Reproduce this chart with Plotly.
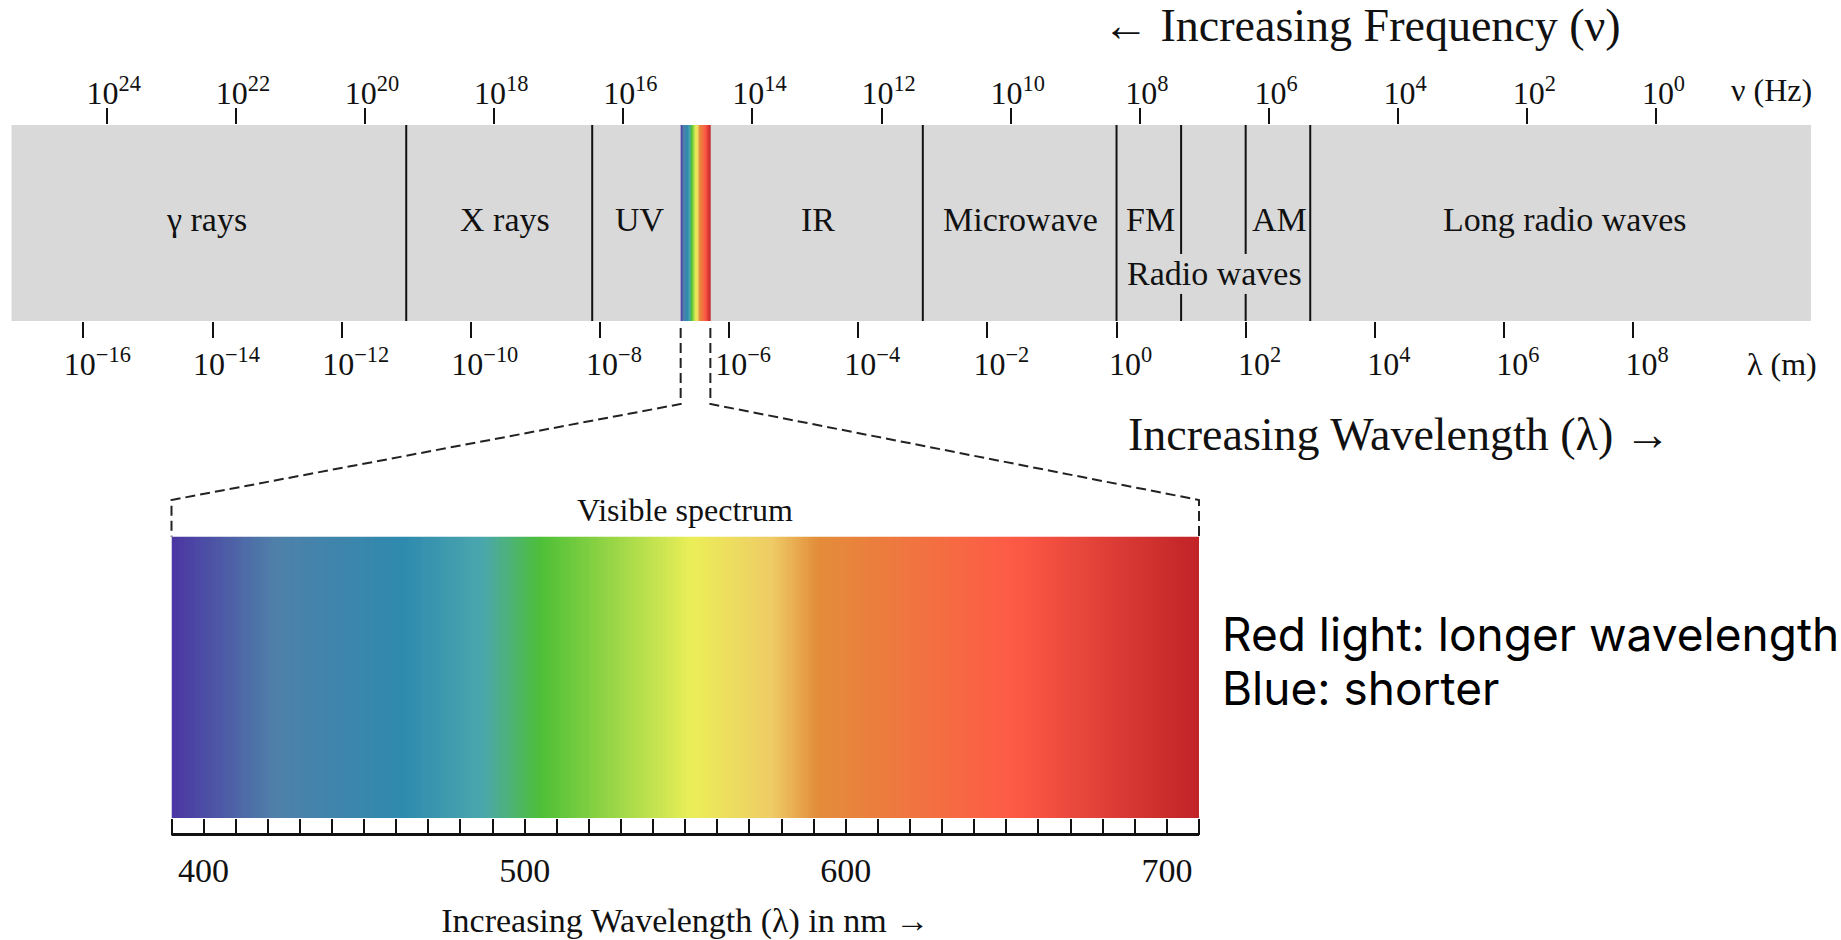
import numpy as np
import plotly.graph_objects as go

# ---------------- data ----------------
REGION_NAMES = ["γ rays", "X rays", "UV", "IR", "Microwave", "FM", "AM", "Long radio waves"]
REGION_LABEL_LOG_WL = [-14.09, -9.47, -7.38, -4.62, -1.49, 0.53, 2.53, 6.94]
FULL_DIVIDERS_LOG_WL = [-11.0, -8.12, -3.0, 0.0, 3.0]
RADIO_SPLIT_LOG_WL = [1.0, 2.0]
RADIO_LABEL = "Radio waves"
RADIO_LABEL_LOG_WL = 1.51
VISIBLE_LOG_WL = [-6.75, -6.29]
BAND_LOG_WL_RANGE = [-17.113, 10.755]
WL_EXPONENTS = [-16, -14, -12, -10, -8, -6, -4, -2, 0, 2, 4, 6, 8]
FREQ_EXPONENTS = [24, 22, 20, 18, 16, 14, 12, 10, 8, 6, 4, 2, 0]
FREQ_OFFSET = 8.362  # log10(nu) = FREQ_OFFSET - log10(lambda), as drawn

NM_RANGE = [390, 710]
NM_LABELS = [400, 500, 600, 700]
NM_MINOR_STEP = 10
SPECTRUM_STOPS_NM = [390, 422, 462, 487, 505, 552, 577, 591, 652, 710]
SPECTRUM_COLORS = ["#4B35A3", "#4F80A9", "#2E8AAE", "#4BA7AD", "#4DBF37",
                   "#EBEE57", "#EFCB66", "#E38D3A", "#FE5A46", "#C02327"]

NOTE_LINES = ["Red light: longer wavelength", "Blue: shorter"]

# ---------------- layout geometry (pixels) ----------------
W, H = 1841, 940
BAND_PX_X = (11.5, 1811.0)
BAND_PX_Y = (125.0, 321.0)
SPEC_PX_X = (171.5, 1199.0)
SPEC_PX_Y = (536.5, 818.0)


def px_x(p):
    return p / W


def px_y(p):
    return 1 - p / H


band_xdom = [px_x(BAND_PX_X[0]), px_x(BAND_PX_X[1])]
band_ydom = [px_y(BAND_PX_Y[1]), px_y(BAND_PX_Y[0])]
spec_xdom = [px_x(SPEC_PX_X[0]), px_x(SPEC_PX_X[1])]
spec_ydom = [px_y(SPEC_PX_Y[1]), px_y(SPEC_PX_Y[0])]


def band_to_paper(v):
    r0, r1 = BAND_LOG_WL_RANGE
    return band_xdom[0] + (v - r0) / (r1 - r0) * (band_xdom[1] - band_xdom[0])


serif = "Liberation Serif, Times New Roman, serif"
ink = "#111111"
colorscale = [[(s - NM_RANGE[0]) / (NM_RANGE[1] - NM_RANGE[0]), c]
              for s, c in zip(SPECTRUM_STOPS_NM, SPECTRUM_COLORS)]

fig = go.Figure()

# visible spectrum (bottom panel)
nm_edges = np.linspace(NM_RANGE[0], NM_RANGE[1], 321)
nm_centers = (nm_edges[:-1] + nm_edges[1:]) / 2
fig.add_trace(go.Heatmap(x=nm_edges, y=[0, 1], z=[nm_centers], colorscale=colorscale,
                         zmin=NM_RANGE[0], zmax=NM_RANGE[1], showscale=False,
                         hoverinfo="skip", xaxis="x3", yaxis="y3"))

# visible strip in the band
strip_edges = np.linspace(VISIBLE_LOG_WL[0], VISIBLE_LOG_WL[1], 321)
fig.add_trace(go.Heatmap(x=strip_edges, y=[0, 1], z=[nm_centers], colorscale=colorscale,
                         zmin=NM_RANGE[0], zmax=NM_RANGE[1], showscale=False,
                         hoverinfo="skip", xaxis="x", yaxis="y"))

# invisible trace to carry the frequency axis
fig.add_trace(go.Scatter(x=FREQ_EXPONENTS, y=[0.5] * len(FREQ_EXPONENTS), mode="markers",
                         marker=dict(opacity=0), hoverinfo="skip", showlegend=False,
                         xaxis="x2", yaxis="y"))

shapes = []
shapes.append(dict(type="rect", xref="x domain", yref="y domain", x0=0, x1=1, y0=0, y1=1,
                   fillcolor="#D9D9D9", line=dict(width=0), layer="below"))
for v in FULL_DIVIDERS_LOG_WL:
    shapes.append(dict(type="line", xref="x", yref="y domain", x0=v, x1=v, y0=0, y1=1,
                       line=dict(color=ink, width=2)))
for v in RADIO_SPLIT_LOG_WL:
    shapes.append(dict(type="line", xref="x", yref="y domain", x0=v, x1=v, y0=0.342, y1=1,
                       line=dict(color=ink, width=2)))
    shapes.append(dict(type="line", xref="x", yref="y domain", x0=v, x1=v, y0=0, y1=0.138,
                       line=dict(color=ink, width=2)))

# thick base line under the nm tick strip
base_y = -16.5 / (SPEC_PX_Y[1] - SPEC_PX_Y[0])
shapes.append(dict(type="line", xref="x3 domain", yref="y3 domain", x0=0, x1=1,
                   y0=base_y, y1=base_y, line=dict(color=ink, width=3)))

# dashed connectors
y_start = px_y(BAND_PX_Y[1] + 7)
y_kink = px_y(404)
y_corner = px_y(500)
for v, sx in zip(VISIBLE_LOG_WL, spec_xdom):
    xp = band_to_paper(v)
    path = f"M {xp},{y_start} L {xp},{y_kink} L {sx},{y_corner} L {sx},{spec_ydom[1]}"
    shapes.append(dict(type="path", xref="paper", yref="paper", path=path,
                       line=dict(color="#222222", width=2, dash="10px,5px")))

annotations = []
for name, v in zip(REGION_NAMES, REGION_LABEL_LOG_WL):
    annotations.append(dict(text=name, x=v, y=0.52, xref="x", yref="y", showarrow=False,
                            font=dict(family=serif, size=34, color=ink)))
annotations.append(dict(text=RADIO_LABEL, x=RADIO_LABEL_LOG_WL, y=0.24, xref="x", yref="y",
                        showarrow=False, font=dict(family=serif, size=34, color=ink)))

annotations.append(dict(text="← Increasing Frequency (ν)", x=px_x(1362), y=px_y(26),
                        xref="paper", yref="paper", showarrow=False, xanchor="center", yanchor="middle",
                        font=dict(family=serif, size=46, color=ink)))
annotations.append(dict(text="Increasing Wavelength (λ) →", x=px_x(1399), y=px_y(434),
                        xref="paper", yref="paper", showarrow=False, xanchor="center", yanchor="middle",
                        font=dict(family=serif, size=46, color=ink)))
annotations.append(dict(text="ν (Hz)", x=px_x(1771), y=px_y(90), xref="paper", yref="paper",
                        showarrow=False, xanchor="center", yanchor="middle",
                        font=dict(family=serif, size=32, color=ink)))
annotations.append(dict(text="λ (m)", x=px_x(1782), y=px_y(364), xref="paper", yref="paper",
                        showarrow=False, xanchor="center", yanchor="middle",
                        font=dict(family=serif, size=32, color=ink)))
annotations.append(dict(text="Visible spectrum", x=0.5, y=px_y(510), xref="x3 domain", yref="paper",
                        showarrow=False, xanchor="center", yanchor="middle",
                        font=dict(family=serif, size=32, color=ink)))
for line, ypx in zip(NOTE_LINES, [634, 688]):
    annotations.append(dict(text=line, x=px_x(1220), y=px_y(ypx), xref="paper", yref="paper",
                            showarrow=False, xanchor="left", yanchor="middle", align="left",
                            font=dict(family="Inter, Lato, sans-serif", size=46, color="#000000")))


def sup(e):
    s = str(e).replace("-", "−")
    return f"10<sup>{s}</sup>"


tickfont = dict(family=serif, size=32, color=ink)

fig.update_layout(
    width=W, height=H, margin=dict(l=0, r=0, t=0, b=0),
    paper_bgcolor="white", plot_bgcolor="rgba(0,0,0,0)", showlegend=False,
    shapes=shapes, annotations=annotations,
    xaxis=dict(domain=band_xdom, range=BAND_LOG_WL_RANGE, anchor="y", side="bottom",
               tickvals=WL_EXPONENTS, ticktext=[sup(e) for e in WL_EXPONENTS],
               ticks="outside", ticklen=16, tickwidth=2, tickcolor=ink,
               tickfont=tickfont, ticklabelshift=14, ticklabelstandoff=-1,
               showgrid=False, zeroline=False, showline=False, fixedrange=True),
    xaxis2=dict(range=[FREQ_OFFSET - BAND_LOG_WL_RANGE[0], FREQ_OFFSET - BAND_LOG_WL_RANGE[1]],
                overlaying="x", anchor="y", side="top",
                tickvals=FREQ_EXPONENTS, ticktext=[sup(e) for e in FREQ_EXPONENTS],
                ticks="outside", ticklen=16, tickwidth=2, tickcolor=ink,
                tickfont=tickfont, ticklabelshift=-7, ticklabelstandoff=-9,
                showgrid=False, zeroline=False, showline=False, fixedrange=True),
    yaxis=dict(domain=band_ydom, range=[0, 1], anchor="x", visible=False, fixedrange=True),
    xaxis3=dict(domain=spec_xdom, range=NM_RANGE, anchor="y3",
                tickvals=NM_LABELS, ticks="outside", ticklen=16, tickwidth=2, tickcolor=ink,
                minor=dict(tick0=NM_RANGE[0], dtick=NM_MINOR_STEP, ticks="outside", ticklen=16,
                           tickwidth=2, tickcolor=ink),
                tickfont=dict(family=serif, size=34, color=ink), ticklabelstandoff=6,
                title=dict(text="Increasing Wavelength (λ) in nm →",
                           font=dict(family=serif, size=34, color=ink), standoff=21),
                showgrid=False, zeroline=False, showline=False, fixedrange=True),
    yaxis3=dict(domain=spec_ydom, range=[0, 1], anchor="x3", visible=False, fixedrange=True),
)

fig.write_html("out.html", config={"displayModeBar": False},
               post_script="document.body.style.margin='0px';document.body.style.overflow='hidden';")
